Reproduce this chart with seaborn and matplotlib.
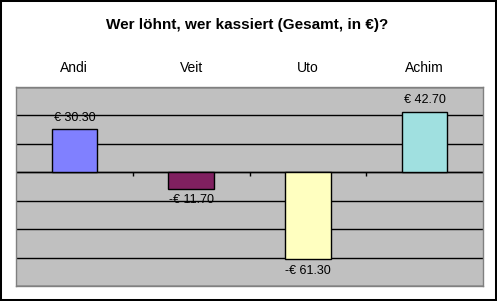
import matplotlib
matplotlib.use("Agg")
import matplotlib.pyplot as plt
import seaborn as sns
import pandas as pd
from matplotlib.patches import Rectangle
from matplotlib.ticker import MultipleLocator

names = ["Andi", "Veit", "Uto", "Achim"]
values = [30.30, -11.70, -61.30, 42.70]
colors = ["#8080FF", "#802060", "#FFFFC0", "#A0E0E0"]
title = "Wer löhnt, wer kassiert (Gesamt, in €)?"

sns.set_theme(style="white")
plt.rcParams["font.family"] = ["Liberation Sans", "DejaVu Sans"]

df = pd.DataFrame({"name": names, "value": values})

fig = plt.figure(figsize=(4.97, 3.01), dpi=100)
fig.patch.set_facecolor("white")
ax = fig.add_axes([16 / 497, 15 / 301, 467 / 497, 199 / 301])
ax.set_facecolor("#C0C0C0")

sns.barplot(data=df, x="name", y="value", hue="name", palette=colors,
            width=0.39, edgecolor="black", linewidth=1, ax=ax, legend=False,
            saturation=1, zorder=3)

ax.set_ylim(-80, 60)
ax.set_xlim(-0.5, len(names) - 0.5)
ax.yaxis.set_major_locator(MultipleLocator(20))
ax.grid(axis="y", color="black", linewidth=1)
ax.set_axisbelow(True)
ax.axhline(0, color="black", linewidth=1, zorder=2)
bounds = [i + 0.5 for i in range(len(names) - 1)]
ax.vlines(bounds, -2.8, 0, color="black", linewidth=1, zorder=2)

ax.set_xlabel("")
ax.set_ylabel("")
ax.tick_params(axis="y", left=False, labelleft=False)
ax.xaxis.tick_top()
ax.tick_params(axis="x", top=False, length=0, pad=8.6, labelsize=10, labelcolor="black")
for s in ax.spines.values():
    s.set_color("#808080")
    s.set_linewidth(1)

for cont, v in zip(ax.containers, values):
    lab = f"€ {v:.2f}" if v >= 0 else f"-€ {abs(v):.2f}"
    ax.bar_label(cont, labels=[lab], padding=4, fontsize=9, color="black")

fig.text(0.497, 1 - 25 / 301, title, ha="center", va="center",
         fontsize=11, fontweight="bold", color="black")

fig.add_artist(Rectangle((0, 0), 1, 1, transform=fig.transFigure, fill=False,
                         edgecolor="black", linewidth=2.9))

fig.savefig("out.png", dpi=100)
